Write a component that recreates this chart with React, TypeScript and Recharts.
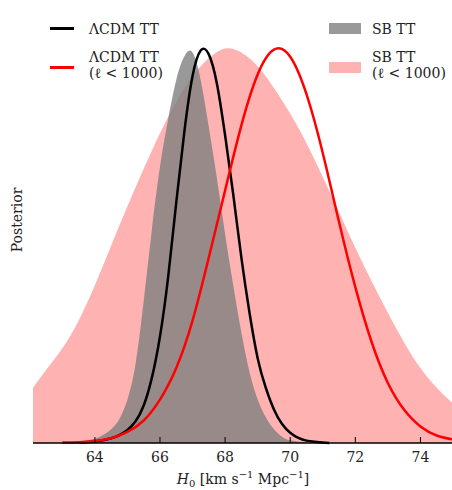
import { ComposedChart, Area, Line, XAxis, YAxis } from 'recharts';

// H0 posteriors, peak-normalised
const lcdmH0 = [63.5, 63.75, 64.0, 64.25, 64.5, 64.75, 65.0, 65.25, 65.5, 65.75, 66.0, 66.25, 66.5, 66.75, 67.0, 67.25, 67.5, 67.75, 68.0, 68.25, 68.5, 68.75, 69.0, 69.25, 69.5, 69.75, 70.0, 70.25, 70.5, 70.75, 71.0, 71.2];
const lcdmP = [0.001, 0.002, 0.004, 0.007, 0.012, 0.02, 0.033, 0.055, 0.095, 0.165, 0.27, 0.42, 0.61, 0.79, 0.93, 0.995, 0.985, 0.91, 0.78, 0.63, 0.47, 0.33, 0.215, 0.14, 0.085, 0.048, 0.026, 0.013, 0.006, 0.003, 0.001, 0.0];

const lcdmLowH0 = [63.0, 63.5, 64.0, 64.5, 65.0, 65.5, 66.0, 66.5, 67.0, 67.5, 68.0, 68.5, 69.0, 69.5, 70.0, 70.5, 71.0, 71.5, 72.0, 72.5, 73.0, 73.5, 74.0, 74.5, 75.0];
const lcdmLowP = [0.001, 0.002, 0.005, 0.012, 0.028, 0.057, 0.11, 0.19, 0.31, 0.47, 0.64, 0.805, 0.934, 0.997, 0.979, 0.884, 0.735, 0.56, 0.395, 0.256, 0.152, 0.084, 0.042, 0.019, 0.009];

const sbH0 = [63.5, 64.0, 64.25, 64.5, 64.75, 65.0, 65.25, 65.5, 65.75, 66.0, 66.25, 66.5, 66.75, 67.0, 67.25, 67.5, 67.75, 68.0, 68.25, 68.5, 68.75, 69.0, 69.25, 69.5, 69.75, 70.0, 70.5];
const sbP = [0.004, 0.011, 0.02, 0.035, 0.06, 0.11, 0.2, 0.36, 0.54, 0.7, 0.82, 0.92, 0.98, 0.99, 0.92, 0.8, 0.67, 0.53, 0.4, 0.28, 0.18, 0.11, 0.065, 0.035, 0.016, 0.007, 0.001];

const sbLowH0 = [62.1, 62.5, 63.0, 63.5, 64.0, 64.5, 65.0, 65.5, 66.0, 66.5, 67.0, 67.5, 68.0, 68.5, 69.0, 69.5, 70.0, 70.5, 71.0, 71.5, 72.0, 72.5, 73.0, 73.5, 74.0, 74.5, 75.0];
const sbLowP = [0.14, 0.185, 0.24, 0.31, 0.4, 0.5, 0.6, 0.695, 0.785, 0.865, 0.93, 0.975, 1.0, 0.99, 0.955, 0.9, 0.835, 0.76, 0.675, 0.585, 0.495, 0.41, 0.33, 0.255, 0.19, 0.14, 0.1];

const xTicks = [64, 66, 68, 70, 72, 74];

function buildRows() {
  const series: [string, number[], number[]][] = [
    ['lcdm', lcdmH0, lcdmP],
    ['lcdmLow', lcdmLowH0, lcdmLowP],
    ['sb', sbH0, sbP],
    ['sbLow', sbLowH0, sbLowP],
  ];
  const map = new Map<number, any>();
  series.forEach(([key, xs, ys]) => {
    xs.forEach((x, i) => {
      if (!map.has(x)) map.set(x, { h0: x });
      map.get(x)[key] = ys[i];
    });
  });
  return Array.from(map.values()).sort((a, b) => a.h0 - b.h0);
}

const rows = buildRows();

const FONT = '"DejaVu Serif", serif';
const TOP = 9;
const BOTTOM = 443;

const BottomTick = (props: any) => {
  const { x, payload } = props;
  return (
    <g>
      <line x1={x} x2={x} y1={BOTTOM} y2={BOTTOM - 6} stroke="#000" strokeWidth={1} />
      <text x={x} y={462} textAnchor="middle" fontFamily={FONT} fontSize={14} fill="#222">
        {payload.value}
      </text>
    </g>
  );
};

const TopTick = (props: any) => {
  const { x } = props;
  return <line x1={x} x2={x} y1={TOP} y2={TOP + 6} stroke="#000" strokeWidth={1} />;
};

const txt: React.CSSProperties = {
  position: 'absolute',
  fontFamily: FONT,
  fontSize: 14,
  lineHeight: '16px',
  color: '#222',
  whiteSpace: 'nowrap',
};

const small: React.CSSProperties = { fontSize: 10, position: 'relative' };

export default function App() {
  return (
    <div style={{ position: 'absolute', left: 0, top: 0, width: 452, height: 490, overflow: 'hidden', background: '#fff' }}>
      <ComposedChart width={456} height={490} data={rows} margin={{ top: TOP, right: 3, bottom: 0, left: 33 }}>
        <XAxis
          xAxisId="b"
          type="number"
          dataKey="h0"
          domain={[62.1, 75]}
          allowDataOverflow
          ticks={xTicks}
          height={47}
          tickLine={false}
          tick={<BottomTick />}
          axisLine={{ stroke: '#000', strokeWidth: 1.5 }}
        />
        <XAxis
          xAxisId="t"
          orientation="top"
          type="number"
          dataKey="h0"
          domain={[62.1, 75]}
          allowDataOverflow
          ticks={xTicks}
          height={0}
          tickLine={false}
          tick={<TopTick />}
          axisLine={{ stroke: '#000', strokeWidth: 1.5 }}
        />
        <YAxis type="number" domain={[0, 1.1]} width={0} tick={false} tickLine={false} axisLine={{ stroke: '#000', strokeWidth: 1.5 }} />
        <Area xAxisId="b" type="natural" dataKey="sbLow" stroke="none" fill="#ff0000" fillOpacity={0.3} connectNulls isAnimationActive={false} />
        <Area xAxisId="b" type="natural" dataKey="sb" stroke="none" fill="#808080" fillOpacity={0.8} connectNulls isAnimationActive={false} />
        <Line xAxisId="b" type="natural" dataKey="lcdm" stroke="#000" strokeWidth={2.5} dot={false} connectNulls isAnimationActive={false} />
        <Line xAxisId="b" type="natural" dataKey="lcdmLow" stroke="#ff0000" strokeWidth={2.5} dot={false} connectNulls isAnimationActive={false} />
      </ComposedChart>

      {/* legend */}
      <div style={{ position: 'absolute', left: 50, top: 26.5, width: 24, height: 3, background: '#000' }} />
      <div style={{ ...txt, left: 89, top: 21 }}>ΛCDM TT</div>
      <div style={{ position: 'absolute', left: 50, top: 66, width: 24, height: 3, background: '#ff0000' }} />
      <div style={{ ...txt, left: 89, top: 49 }}>ΛCDM TT<br />(ℓ &lt; 1000)</div>
      <div style={{ position: 'absolute', left: 329, top: 23, width: 32, height: 11, background: '#808080', opacity: 0.8 }} />
      <div style={{ ...txt, left: 372, top: 21 }}>SB TT</div>
      <div style={{ position: 'absolute', left: 329, top: 62, width: 32, height: 11, background: '#ff0000', opacity: 0.3 }} />
      <div style={{ ...txt, left: 372, top: 49 }}>SB TT<br />(ℓ &lt; 1000)</div>

      {/* axis titles */}
      <div style={{ ...txt, left: 243, top: 471, transform: 'translateX(-50%)' }}>
        <i>H</i>
        <span style={{ ...small, top: 3 }}>0</span> [km s<span style={{ ...small, top: -6 }}>−1</span> Mpc
        <span style={{ ...small, top: -6 }}>−1</span>]
      </div>
      <div style={{ ...txt, left: 17, top: 220, transform: 'translate(-50%, -50%) rotate(-90deg)' }}>Posterior</div>
    </div>
  );
}
